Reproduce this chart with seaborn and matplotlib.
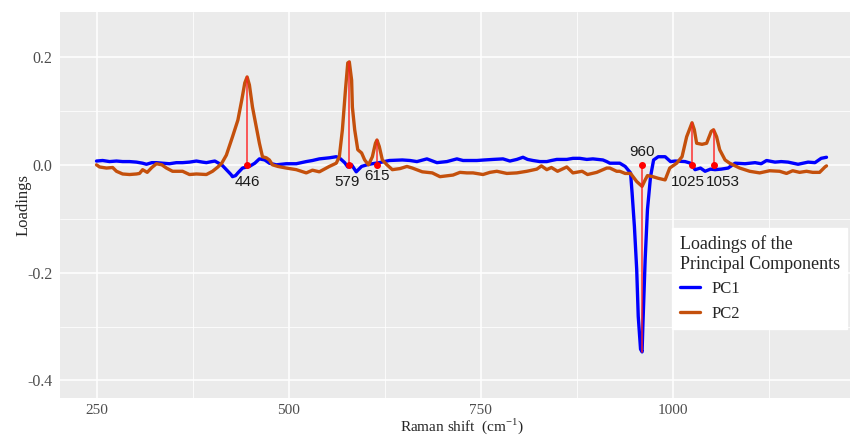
import numpy as np
import pandas as pd
import seaborn as sns
import matplotlib
matplotlib.use("Agg")
import matplotlib.pyplot as plt
from matplotlib.lines import Line2D

# ---------------- data ----------------
pc1_x = [250, 258, 267, 276, 284, 293, 302, 310, 315, 322, 328, 336, 345, 354, 362, 371,
         380, 388, 393, 400, 404, 409, 413, 419, 425, 427, 431, 434, 440, 449, 456, 462,
         469, 475, 484, 497, 510, 523, 531, 540, 553, 562, 566, 573, 577, 582, 588, 595,
         602, 609, 618, 631, 648, 658, 667, 680, 693, 706, 719, 727, 736, 745, 755, 766,
         779, 788, 797, 805, 811, 818, 827, 836, 842, 849, 862, 870, 879, 888, 896, 909,
         914, 918, 931, 938, 945, 947, 950, 953, 955, 958, 960, 961, 964, 967, 971, 975,
         981, 990, 997, 1003, 1016, 1023, 1029, 1036, 1042, 1049, 1055, 1063, 1072, 1081,
         1094, 1107, 1115, 1122, 1133, 1141, 1150, 1163, 1176, 1185, 1193, 1200]
pc1_y = [0.007, 0.008, 0.006, 0.007, 0.006, 0.006, 0.005, 0.003, 0.001, 0.004, 0.004, 0.003,
         0.002, 0.004, 0.004, 0.005, 0.007, 0.005, 0.004, 0.006, 0.007, 0.003, 0.000, -0.009,
         -0.018, -0.022, -0.020, -0.015, -0.006, -0.003, 0.003, 0.011, 0.009, 0.003, 0.000,
         0.002, 0.002, 0.006, 0.008, 0.011, 0.013, 0.015, 0.013, 0.004, -0.004, 0.000, -0.013,
         -0.003, 0.000, 0.002, 0.004, 0.008, 0.009, 0.008, 0.006, 0.011, 0.004, 0.006, 0.011,
         0.008, 0.008, 0.008, 0.009, 0.010, 0.011, 0.007, 0.010, 0.014, 0.010, 0.008, 0.006,
         0.006, 0.008, 0.010, 0.010, 0.012, 0.012, 0.010, 0.011, 0.009, 0.006, 0.003, 0.003,
         -0.003, -0.015, -0.052, -0.114, -0.194, -0.281, -0.342, -0.347, -0.300, -0.176,
         -0.083, -0.022, 0.009, 0.015, 0.015, 0.006, 0.007, 0.006, 0.003, -0.009, -0.006,
         -0.012, -0.008, -0.009, -0.008, -0.006, 0.003, 0.002, 0.004, 0.002, 0.008, 0.005,
         0.006, 0.005, 0.001, 0.005, 0.004, 0.012, 0.014]

pc2_x = [250, 254, 263, 271, 276, 284, 293, 302, 306, 310, 316, 322, 328, 335, 341, 349,
         362, 371, 380, 393, 401, 408, 413, 419, 427, 434, 439, 443, 446, 449, 453, 458,
         462, 466, 471, 475, 479, 486, 497, 510, 523, 531, 540, 553, 562, 566, 570, 574,
         577, 579, 582, 583, 586, 590, 595, 599, 604, 609, 613, 615, 618, 622, 628, 635,
         645, 654, 661, 674, 687, 697, 714, 723, 732, 740, 753, 762, 771, 784, 797, 810,
         823, 829, 836, 842, 850, 862, 870, 882, 889, 901, 914, 918, 927, 931, 938, 945,
         953, 960, 964, 967, 974, 981, 990, 996, 1005, 1012, 1018, 1025, 1028, 1031, 1038,
         1044, 1050, 1053, 1057, 1061, 1068, 1074, 1087, 1100, 1113, 1126, 1139, 1148, 1156,
         1165, 1174, 1182, 1191, 1198, 1200]
pc2_y = [0.000, -0.004, -0.006, -0.005, -0.012, -0.017, -0.018, -0.017, -0.016, -0.009,
         -0.014, -0.005, 0.002, 0.000, -0.006, -0.012, -0.012, -0.018, -0.017, -0.018,
         -0.012, -0.004, 0.003, 0.018, 0.052, 0.083, 0.120, 0.152, 0.163, 0.148, 0.107,
         0.070, 0.040, 0.015, 0.013, 0.009, 0.000, -0.003, -0.006, -0.009, -0.015, -0.010,
         -0.013, -0.003, 0.003, 0.015, 0.065, 0.139, 0.189, 0.191, 0.157, 0.107, 0.065,
         0.028, 0.022, 0.009, 0.000, 0.015, 0.040, 0.046, 0.034, 0.009, 0.000, -0.009,
         -0.007, -0.003, -0.006, -0.013, -0.015, -0.022, -0.019, -0.014, -0.015, -0.015,
         -0.018, -0.014, -0.012, -0.016, -0.015, -0.012, -0.008, -0.002, -0.009, -0.005,
         -0.012, -0.004, -0.015, -0.012, -0.018, -0.014, -0.006, -0.006, -0.012, -0.012,
         -0.016, -0.016, -0.031, -0.040, -0.028, -0.020, -0.022, -0.025, -0.028, -0.006,
         0.003, 0.015, 0.052, 0.078, 0.065, 0.040, 0.038, 0.040, 0.062, 0.065, 0.052,
         0.028, 0.009, 0.003, -0.006, -0.012, -0.015, -0.011, -0.012, -0.016, -0.011,
         -0.014, -0.012, -0.014, -0.014, -0.004, -0.002]

series_names = ["PC1", "PC2"]
peak_wn = [446, 579, 615, 960, 1025, 1053]
peak_series = ["PC2", "PC2", "PC2", "PC1", "PC2", "PC2"]
peak_labels = ["446", "579", "615", "960", "1025", "1053"]

x_ticks = [250, 500, 750, 1000]
y_ticks = [-0.4, -0.2, 0.0, 0.2]
y_ticklabels = ["-0.4", "-0.2", "0.0", "0.2"]

# ---------------- figure ----------------
df = pd.concat([
    pd.DataFrame({"wn": pc1_x, "val": pc1_y, "pc": "PC1"}),
    pd.DataFrame({"wn": pc2_x, "val": pc2_y, "pc": "PC2"}),
], ignore_index=True)

sns.set_style("darkgrid")
plt.rcParams["font.family"] = ["Liberation Serif", "DejaVu Serif"]
plt.rcParams["mathtext.fontset"] = "custom"
plt.rcParams["mathtext.rm"] = "Liberation Serif"

W, H = 850, 436
AX_L, AX_R, AX_T, AX_B = 60, 863, 12.5, 398
fig = plt.figure(figsize=(W / 100, H / 100), dpi=100)
ax = fig.add_axes([AX_L / W, (H - AX_B) / H, (AX_R - AX_L) / W, (AX_B - AX_T) / H])
ax.set_facecolor("#EBEBEB")

colors = {"PC1": "#0000FF", "PC2": "#C4500C"}
sns.lineplot(data=df, x="wn", y="val", hue="pc", palette=colors, estimator=None,
             sort=False, linewidth=2.4, ax=ax, legend=False, zorder=3)

# annotations (red stems + dots)
series_xy = {"PC1": (pc1_x, pc1_y), "PC2": (pc2_x, pc2_y)}
label_offsets = {"446": (0.5, -0.032), "579": (-3.5, -0.032), "615": (-0.5, -0.021),
                 "960": (0, 0.024), "1025": (-6, -0.032), "1053": (12, -0.032)}
for wn, s, lab in zip(peak_wn, peak_series, peak_labels):
    xs, ys = series_xy[s]
    tip = float(np.interp(wn, xs, ys))
    ax.plot([wn, wn], [0, tip], color="#FF2020", lw=1.2, alpha=0.85, zorder=4)
    ax.plot([wn], [0], "o", color="#FF0000", ms=4, zorder=5)
    dx, dy = label_offsets[lab]
    ax.text(wn + dx, dy, lab, ha="center", va="center", fontsize=11,
            family=["Liberation Sans", "DejaVu Sans"], color="#1A1A1A", zorder=6)

ax.set_xlim(202.5, 1247.5)
ax.set_ylim(-0.4325, 0.2825)
ax.set_xticks(x_ticks)
ax.set_xticklabels([str(t) for t in x_ticks])
ax.set_yticks(y_ticks)
ax.set_yticklabels(y_ticklabels)
ax.set_xticks([375, 625, 875, 1125], minor=True)
ax.set_yticks([-0.3, -0.1, 0.1], minor=True)
ax.grid(which="major", color="white", lw=1.1)
ax.grid(which="minor", color="white", lw=0.55)
ax.set_axisbelow(True)
for sp in ax.spines.values():
    sp.set_visible(False)
ax.tick_params(axis="both", which="major", length=3.5, width=0.6, color="#333333",
               labelsize=11.5, labelcolor="#4D4D4D", pad=2)
ax.tick_params(axis="x", which="major", pad=1, labelsize=11)
ax.tick_params(axis="both", which="minor", length=0)

ax.set_xlabel("Raman shift  (cm$^{-1}$)", fontsize=11)
ax.set_ylabel("Loadings", fontsize=12)
ax.xaxis.set_label_coords(0.5, (AX_B - 435.5) / (AX_B - AX_T))
ax.xaxis.label.set_va("bottom")
ax.yaxis.set_label_coords((32 - AX_L) / (AX_R - AX_L), 0.5)

handles = [Line2D([], [], color=colors[n], lw=2.4) for n in series_names]
leg = ax.legend(handles, series_names, title="Loadings of the\nPrincipal Components",
                loc="upper left",
                bbox_to_anchor=((672 - AX_L) / (AX_R - AX_L), (AX_B - 228) / (AX_B - AX_T)),
                frameon=True, fancybox=False, framealpha=1, edgecolor="white",
                facecolor="white", fontsize=12, title_fontsize=13, alignment="left",
                handlelength=1.25, borderpad=0.45, labelspacing=0.5, borderaxespad=0,
                handletextpad=0.7)
leg.set_zorder(10)

fig.savefig("out.png", dpi=100)
